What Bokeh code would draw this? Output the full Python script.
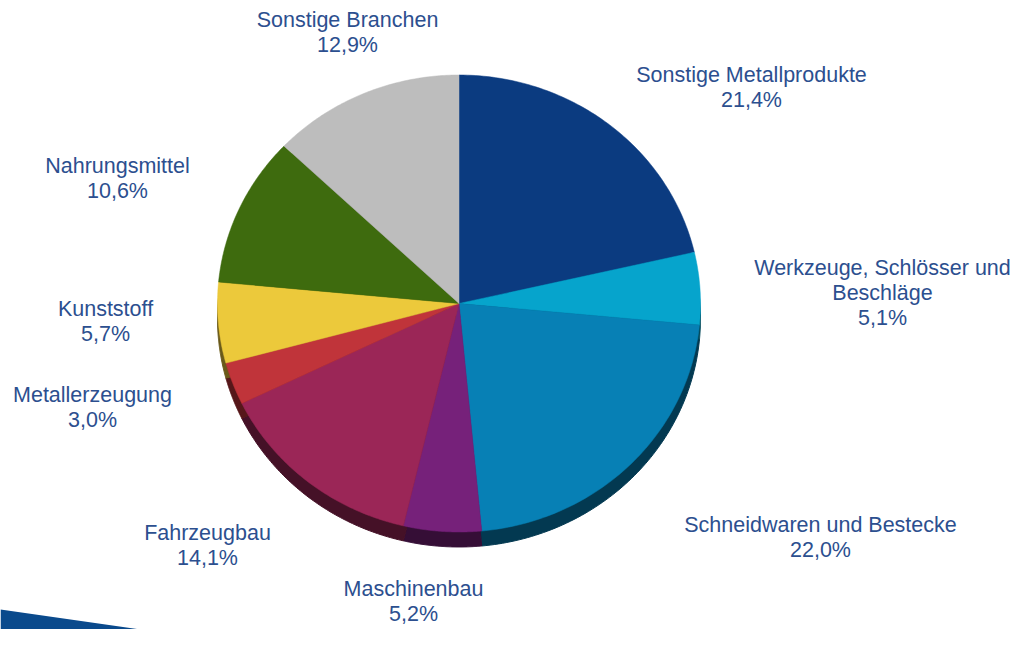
import numpy as np
from bokeh.plotting import figure
from bokeh.models import Range1d, ColumnDataSource
from bokeh.core.properties import value
from bokeh.embed import file_html
from bokeh.resources import INLINE

# ---- data ----
categories = ["Sonstige Metallprodukte", "Werkzeuge, Schlösser und\nBeschläge",
              "Schneidwaren und Bestecke", "Maschinenbau", "Fahrzeugbau",
              "Metallerzeugung", "Kunststoff", "Nahrungsmittel", "Sonstige Branchen"]
shares = [21.4, 5.1, 22.0, 5.2, 14.1, 3.0, 5.7, 10.6, 12.9]
colors = ["#0b3b80", "#06a4cc", "#0780b5", "#76217a", "#9b2657",
          "#c0343a", "#ecc93b", "#3e6b0e", "#bdbdbd"]

# label anchor (centre of first text line), in pixel coordinates
label_pos = [(751, 74), (882, 267), (820, 524), (413, 588), (207, 532),
             (92, 394), (105, 308), (117, 165), (347, 19)]

CX, CY, RX, RY, DEPTH = 458.5, 303.0, 241.5, 228.5, 15
TEXT_COLOR = "#2c4f8f"
W, H = 1010, 629

p = figure(width=W, height=H, output_backend="svg", toolbar_location=None,
           x_range=Range1d(0, W), y_range=Range1d(H, 0), min_border=0)
p.axis.visible = False
p.grid.visible = False
p.outline_line_color = None
p.background_fill_color = "white"

# decorative swoosh bottom-left
p.patch([0, 140, 0], [609, 629, 629], fill_color="#0a4a8c", line_color=None)


def darken(hexc, f=0.45):
    r, g, b = int(hexc[1:3], 16), int(hexc[3:5], 16), int(hexc[5:7], 16)
    return "#%02x%02x%02x" % (int(r * f), int(g * f), int(b * f))


cum = np.concatenate([[0], np.cumsum(shares)])
xs, ys, xs_s, ys_s = [], [], [], []
for i in range(len(shares)):
    a0 = np.pi / 2 - 2 * np.pi * cum[i] / 100
    a1 = np.pi / 2 - 2 * np.pi * cum[i + 1] / 100
    t = np.linspace(a0, a1, 80)
    px = [CX] + list(CX + RX * np.cos(t))
    py = [CY] + list(CY - RY * np.sin(t))
    xs.append(px)
    ys.append(py)
    xs_s.append(px)
    ys_s.append([v + DEPTH for v in py])

p.patches(xs_s, ys_s, fill_color=[darken(c) for c in colors], line_color=[darken(c) for c in colors],
          line_width=1)
p.patches(xs, ys, fill_color=colors, line_color=colors, line_width=0.5)

# labels
lx, ly, lt = [], [], []
for name, v, (x0, y0) in zip(categories, shares, label_pos):
    lines = name.split("\n") + [f"{v:.1f}".replace(".", ",") + "%"]
    for k, ln in enumerate(lines):
        lx.append(x0)
        ly.append(y0 + 25 * k)
        lt.append(ln)
src = ColumnDataSource(dict(x=lx, y=ly, text=lt))
p.text("x", "y", text="text", source=src, text_align="center", text_baseline="middle",
       text_font=value("Liberation Sans"), text_font_size="21.5px", text_color=TEXT_COLOR)

open("out.html", "w").write(file_html(p, INLINE))
